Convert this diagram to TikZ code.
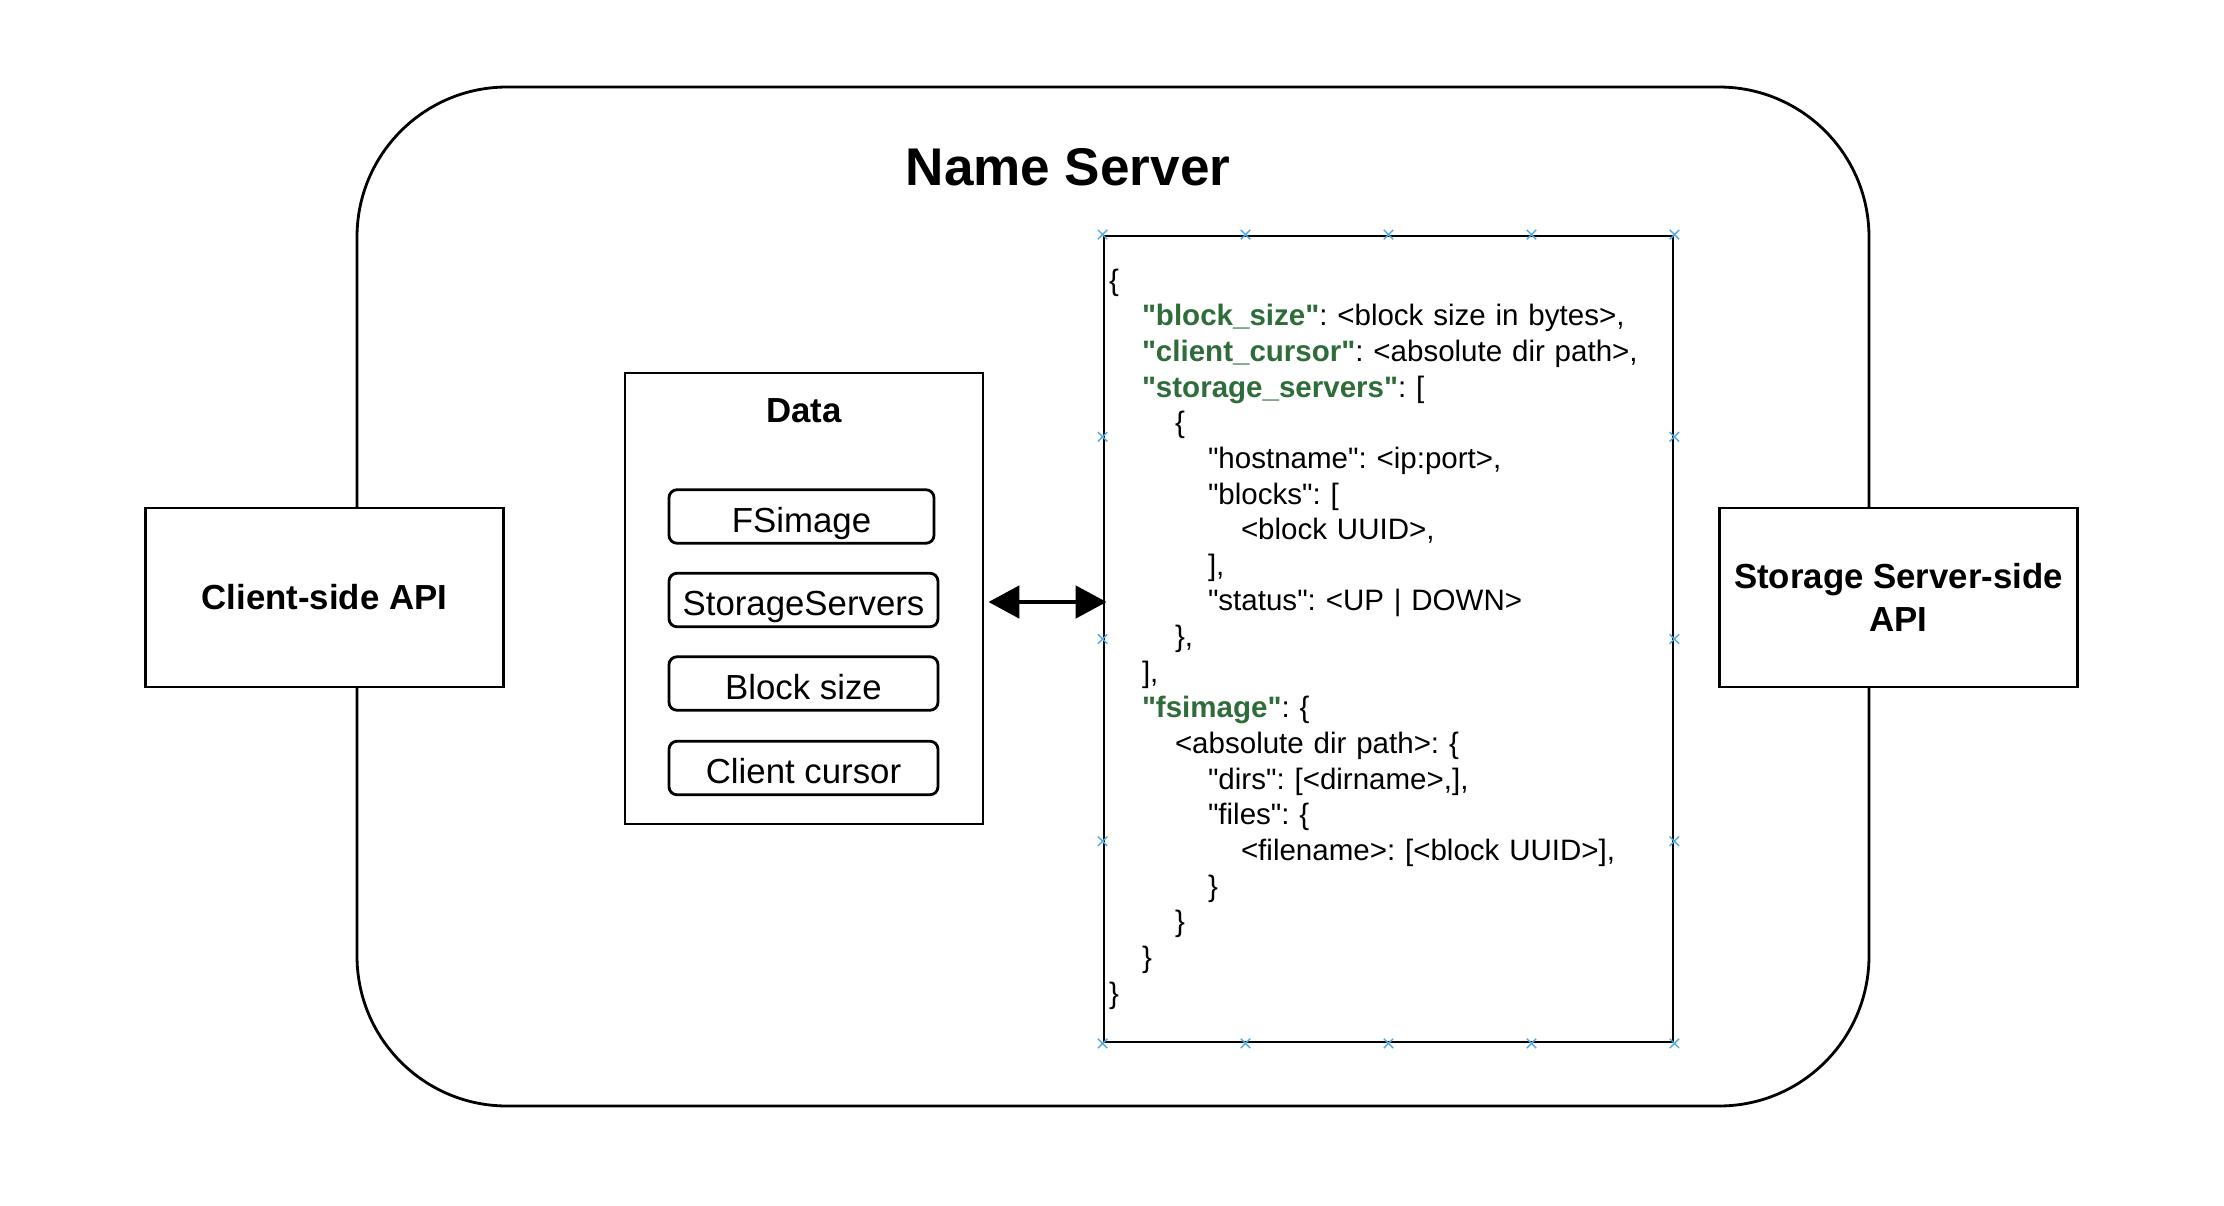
\documentclass[tikz,border=0pt]{standalone}
\usepackage{fontspec}
\setmainfont{Liberation Sans}[Ligatures=TeXOff]
\usepackage{xcolor}
\usetikzlibrary{arrows.meta,shapes.misc,calc}
\frenchspacing

\definecolor{keygreen}{RGB}{46,109,58}
\definecolor{markblue}{RGB}{80,170,230}
\newlength\jind
\setlength\jind{0.33cm}
\newcommand{\jkey}[1]{\textcolor{keygreen}{\textbf{"#1"}}}
\newcommand{\tb}[1]{\hspace*{#1\jind}}

\tikzset{
  container/.style={draw,line width=0.8pt,rounded corners=1.5cm,inner sep=0pt},
  apibox/.style={draw,fill=white,line width=0.8pt,minimum width=3.58cm,minimum height=1.79cm,
    align=center,font=\fontsize{9.9pt}{12.4pt}\selectfont\bfseries},
  databox/.style={draw,line width=0.8pt,minimum width=3.58cm,minimum height=4.51cm},
  itembox/.style={draw,line width=0.8pt,rounded corners=0.08cm,minimum width=2.69cm,
    minimum height=0.535cm,inner sep=0pt,text height=0.31cm,text depth=0cm,
    font=\fontsize{9.9pt}{12pt}\selectfont},
  jsonbox/.style={draw,line width=0.8pt,minimum width=5.69cm,minimum height=8.06cm,
    text width=5.59cm,inner xsep=0.05cm,align=left,font=\fontsize{8.4pt}{10.14pt}\selectfont},
  biarrow/.style={line width=1.4pt,{Triangle[length=0.31cm,width=0.32cm]}-{Triangle[length=0.31cm,width=0.32cm]}},
  xmark/.style={cross out,draw=markblue,line width=0.4pt,minimum size=0.08cm,inner sep=0pt}
}

\begin{document}
\begin{tikzpicture}
\useasboundingbox (0,0) rectangle (22.24,-12.06);

\node[container,minimum width=15.12cm,minimum height=10.19cm] (ns) at (11.13,-5.965) {};
\node[font=\fontsize{15.1pt}{17pt}\selectfont\bfseries] (nstitle) at (10.68,-1.67) {Name Server};

\node[apibox] (client) at (3.245,-5.975) {Client-side API};
\node[apibox] (storage) at (18.985,-5.975) {Storage Server-side\\API};

\node[databox] (data) at (8.04,-5.985) {};
\node[font=\fontsize{9.9pt}{12pt}\selectfont\bfseries] (datatitle) at (8.04,-4.11) {Data};
\node[itembox,minimum width=2.65cm] (fsimage) at (8.015,-5.165) {FSimage};
\node[itembox] (servers) at (8.035,-6.00) {StorageServers};
\node[itembox] (blocksize) at (8.035,-6.835) {Block size};
\node[itembox] (cursor) at (8.035,-7.68) {Client cursor};

\node[jsonbox] (json) at (13.885,-6.39) {%
\{\\
\tb1\jkey{block\_size}: <block size in bytes>,\\
\tb1\jkey{client\_cursor}: <absolute dir path>,\\
\tb1\jkey{storage\_servers}: [\\
\tb2\{\\
\tb3"hostname": <ip:port>,\\
\tb3"blocks": [\\
\tb4<block UUID>,\\
\tb3],\\
\tb3"status": <UP | DOWN>\\
\tb2\},\\
\tb1],\\
\tb1\jkey{fsimage}: \{\\
\tb2<absolute dir path>: \{\\
\tb3"dirs": [<dirname>,],\\
\tb3"files": \{\\
\tb4<filename>: [<block UUID>],\\
\tb3\}\\
\tb2\}\\
\tb1\}\\
\}};

\draw[biarrow] ([xshift=.04cm,yshift=-.035cm]data.east) -- ([xshift=.04cm,yshift=-.035cm]data.east -| json.west);

\foreach \f in {0,0.25,0.5,0.75,1} {
  \node[xmark] at ($(json.north west)!\f!(json.north east)$) {};
  \node[xmark] at ($(json.south west)!\f!(json.south east)$) {};
}
\foreach \f in {0.25,0.5,0.75} {
  \node[xmark] at ($(json.north west)!\f!(json.south west)$) {};
  \node[xmark] at ($(json.north east)!\f!(json.south east)$) {};
}
\end{tikzpicture}
\end{document}
